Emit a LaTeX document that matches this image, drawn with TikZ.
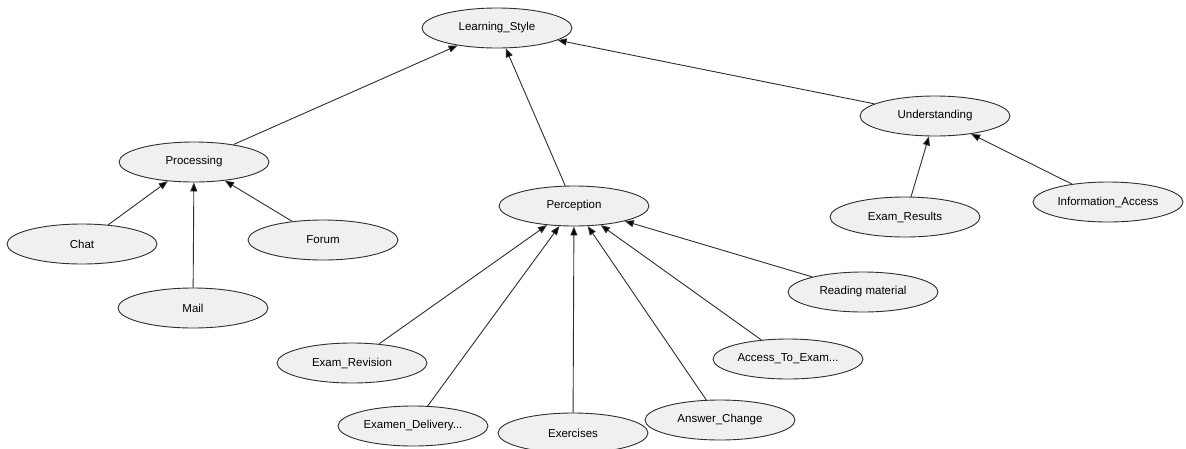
\documentclass[tikz,border=0pt]{standalone}
\usepackage{fontspec}
\setmainfont{Liberation Sans}
\usetikzlibrary{shapes.geometric,arrows.meta}
\definecolor{nodefill}{HTML}{F0F0F0}
\definecolor{linecol}{HTML}{2E2E2E}
\begin{document}
\begin{tikzpicture}[x=1pt,y=-1pt,
  concept/.style={ellipse,draw=linecol,line width=0.9pt,fill=nodefill,
    minimum width=150pt,minimum height=40pt,inner sep=0pt,
    font=\fontsize{11.5}{13}\selectfont},
  edge/.style={draw=linecol,line width=0.9pt,-{Triangle[length=9pt,width=7pt,fill=black]}}]
\useasboundingbox (0,0) rectangle (1186,448);
% nodes
\node[concept] (ls) at (497,28) {Learning\_Style};
\node[concept] (proc) at (194,162) {Processing};
\node[concept] (perc) at (574,206) {Perception};
\node[concept] (und) at (935,116) {Understanding};
\node[concept] (chat) at (82,244) {Chat};
\node[concept] (forum) at (323,240) {Forum};
\node[concept] (mail) at (193,308) {Mail};
\node[concept] (exres) at (905,217) {Exam\_Results};
\node[concept] (info) at (1108,202) {Information\_Access};
\node[concept] (read) at (863,292) {Reading material};
\node[concept] (access) at (788,359) {Access\_To\_Exam...};
\node[concept] (answer) at (720,420) {Answer\_Change};
\node[concept] (exer) at (573,433) {Exercises};
\node[concept] (deliv) at (413,426) {Examen\_Delivery...};
\node[concept] (revis) at (352,363) {Exam\_Revision};
% edges
\draw[edge] (proc) -- (ls);
\draw[edge] (perc) -- (ls);
\draw[edge] (und) -- (ls);
\draw[edge] (chat) -- (proc);
\draw[edge] (mail) -- (proc);
\draw[edge] (forum) -- (proc);
\draw[edge] (exres) -- (und);
\draw[edge] (info) -- (und);
\draw[edge] (revis) -- (perc);
\draw[edge] (deliv) -- (perc);
\draw[edge] (exer) -- (perc);
\draw[edge] (answer) -- (perc);
\draw[edge] (access) -- (perc);
\draw[edge] (read) -- (perc);
\end{tikzpicture}
\end{document}
